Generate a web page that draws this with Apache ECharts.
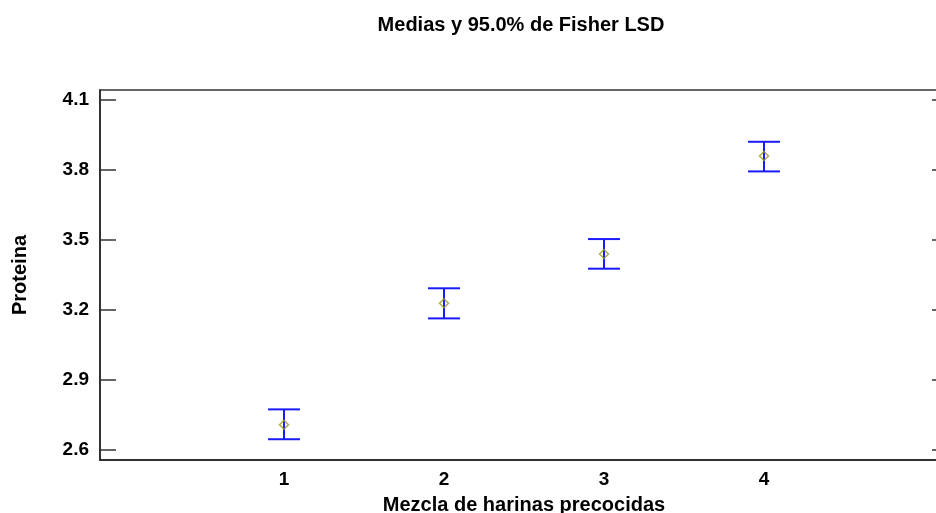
<!DOCTYPE html>
<html>
<head>
<meta charset="utf-8">
<script src="https://cdn.jsdelivr.net/npm/echarts@6/dist/echarts.min.js"></script>
<style>
  html, body { margin: 0; padding: 0; background: #fff; }
  #chart { width: 936px; height: 513px; }
</style>
</head>
<body>
<div id="chart"></div>
<script>
// mezcla de harinas, medias e intervalos LSD
const groups = [1, 2, 3, 4]
const means = [2.708, 3.229, 3.440, 3.860]
const lower = [2.646, 3.164, 3.377, 3.794]
const upper = [2.774, 3.293, 3.504, 3.921]
const yTicks = [2.6, 2.9, 3.2, 3.5, 3.8, 4.1]

const font = '"Liberation Sans", Arial, sans-serif'

const chart = echarts.init(document.getElementById('chart'))

const yBase = {
  type: 'value',
  min: 2.557,
  max: 4.143,
  splitLine: { show: false },
  axisLine: { show: true, onZero: false, lineStyle: { color: '#222', width: 1.5 } },
  axisTick: {
    show: true,
    inside: true,
    length: 16,
    customValues: yTicks,
    lineStyle: { color: '#333', width: 1.5 }
  }
}

chart.setOption({
  animation: false,
  title: {
    text: 'Medias y 95.0% de Fisher LSD',
    left: 516,
    top: 10,
    textAlign: 'center',
    textStyle: { fontFamily: font, fontSize: 20, fontWeight: 'bold', color: '#000' }
  },
  grid: {
    left: 100, right: -12, top: 90, bottom: 53,
    outerBoundsMode: 'none', containLabel: false,
    show: true, borderColor: '#333', borderWidth: 1.5
  },
  xAxis: {
    type: 'value',
    min: -0.15,
    max: 5.15,
    name: 'Mezcla de harinas precocidas',
    nameLocation: 'middle',
    nameGap: 35,
    nameTextStyle: { fontFamily: font, fontSize: 20, fontWeight: 'bold', color: '#000' },
    splitLine: { show: false },
    axisLine: { onZero: false, lineStyle: { color: '#222', width: 1.5 } },
    axisTick: { show: false },
    axisLabel: {
      customValues: groups,
      margin: 10,
      fontFamily: font, fontSize: 19, fontWeight: 'bold', color: '#000'
    }
  },
  yAxis: [
    Object.assign({}, yBase, {
      position: 'left',
      name: 'Proteina',
      nameLocation: 'middle',
      nameGap: 70,
      nameTextStyle: { fontFamily: font, fontSize: 20, fontWeight: 'bold', color: '#000' },
      axisLabel: {
        customValues: yTicks,
        margin: 11,
        formatter: v => v.toFixed(1),
        fontFamily: font, fontSize: 19, fontWeight: 'bold', color: '#000'
      }
    }),
    Object.assign({}, yBase, {
      position: 'right',
      axisLabel: { show: false }
    })
  ],
  series: [
    {
      type: 'custom',
      name: 'LSD',
      data: groups.map((g, i) => [g, lower[i], upper[i]]),
      renderItem: function (params, api) {
        const lo = api.coord([api.value(0), api.value(1)])
        const hi = api.coord([api.value(0), api.value(2)])
        const w = 16
        const style = { stroke: '#1a1aff', lineWidth: 2 }
        return {
          type: 'group',
          children: [
            { type: 'line', shape: { x1: lo[0], y1: lo[1], x2: hi[0], y2: hi[1] }, style: style },
            { type: 'line', shape: { x1: lo[0] - w, y1: lo[1], x2: lo[0] + w, y2: lo[1] }, style: style },
            { type: 'line', shape: { x1: hi[0] - w, y1: hi[1], x2: hi[0] + w, y2: hi[1] }, style: style }
          ]
        }
      },
      z: 2
    },
    {
      type: 'scatter',
      name: 'Media',
      data: groups.map((g, i) => [g, means[i]]),
      symbol: 'diamond',
      symbolSize: [9, 9],
      itemStyle: { color: 'rgba(255,255,255,0)', borderColor: '#9a9a22', borderWidth: 1.5 },
      z: 3
    }
  ]
})
</script>
</body>
</html>
